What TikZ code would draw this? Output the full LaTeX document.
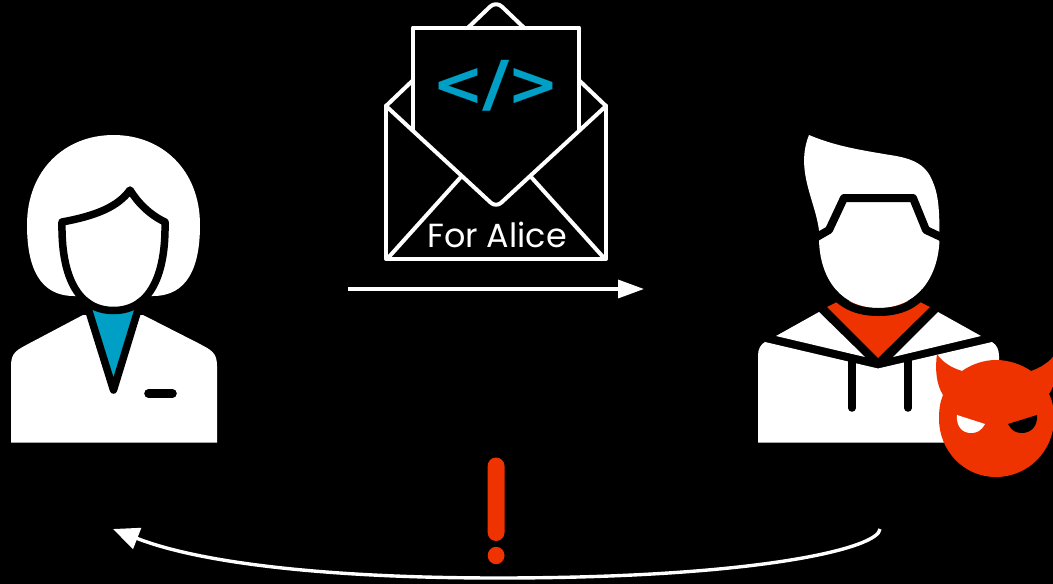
\documentclass[tikz,border=0pt]{standalone}
\usepackage{fontspec}
\setmainfont{Poppins}
\newfontfamily\codefont{DejaVu Sans}
\usetikzlibrary{arrows.meta}
\definecolor{cblue}{HTML}{00A0C6}
\definecolor{cred}{HTML}{EE3300}
\tikzset{
  wfill/.style={fill=white,draw=none},
  rfill/.style={fill=cred,draw=none},
  bline/.style={draw=black,line width=7.5pt,line join=round},
  env/.style={draw=white,line width=4pt,line join=round,line cap=round},
  arrowline/.style={draw=white,line width=3.4pt},
  lbl/.style={inner sep=0pt,text=white,font=\fontsize{33.4}{38}\selectfont},
  code/.style={inner sep=0pt,text=cblue,font=\codefont\bfseries\fontsize{62}{66}\selectfont}
}
\begin{document}
\begin{tikzpicture}[x=1pt,y=-1pt]
\useasboundingbox (0,0) rectangle (1053,584);
\fill[black] (0,0) rectangle (1053,584);
\begin{scope}
\clip (0,0) rectangle (1053,584);
% envelope
\draw[env,rounded corners=8pt] (386,106) -- (496,1) -- (606,106);
\fill[black] (413,130) rectangle (579,27.5);
\draw[env] (413,130) -- (413,27.5) -- (579,27.5) -- (579,130);
\draw[env] (460,178) -- (388,258);
\draw[env] (532,178) -- (604,258);
\draw[env] (386,106) -- (386,259) -- (606,259) -- (606,106);
\draw[env,rounded corners=7pt] (386,106) -- (496,207.5) -- (606,106);
\node[lbl] (forlabel) at (497,235) {For Alice};
\node[code] (codelabel) at (496,86) {<\hspace{-0.03em}\scalebox{1.2}[1.0]{/}\hspace{-0.03em}>};
% Alice
\path[wfill] (83,315) -- (30,343) .. controls (17,350) and (11,352) .. (11,366) -- (11,442.5) -- (217,442.5) -- (217,366) .. controls (217,352) and (211,350) .. (198,343) -- (143,315) -- cycle;
\draw[bline,fill=cblue] (87,305) -- (113.5,390) -- (139.5,305);
\path[wfill] (74,296) .. controls (40,296) and (27,268) .. (27,225) .. controls (27,170) and (65,135) .. (113.5,135) .. controls (162,135) and (200,170) .. (200,225) .. controls (200,268) and (187,296) .. (153,296) -- cycle;
\draw[bline,fill=white] (62,222) .. controls (95,216) and (118,207) .. (130,190) .. controls (138,203) and (150,215) .. (165,222) .. controls (166,275) and (150,310.5) .. (113.5,310.5) .. controls (77,310.5) and (61,275) .. (62,222) -- cycle;
\draw[bline,line width=8.6pt,line cap=round] (148.5,393.5) -- (172.5,393.5);
% Eve
\path[wfill] (765,342) -- (878,368.5) -- (992,342) .. controls (997,345) and (999,350) .. (999,356) -- (999,442.5) -- (758,442.5) -- (758,355) .. controls (758,349) and (761,344) .. (765,342) -- cycle;
\path[wfill] (819,312) -- (776,336) -- (865,357) -- cycle;
\path[wfill] (938,312) -- (981,336) -- (893,357) -- cycle;
\path[rfill] (827,307) -- (839,301) -- (918,301) -- (930,307) -- (878,358) -- cycle;
\draw[bline,line cap=round] (852,360) -- (852,408);
\draw[bline,line cap=round] (908,360) -- (908,408);
\path[wfill] (809,135) .. controls (835,146) and (860,150) .. (890,155) .. controls (910,158) and (925,163) .. (932,180) .. controls (939,195) and (939.5,212) .. (939.5,240) .. controls (938,280) and (915,308) .. (878.5,308) .. controls (842,308) and (820,280) .. (819,240) -- (819,230) .. controls (815,200) and (795,170) .. (809,135) -- cycle;
\draw[draw=black,line width=8pt] (832,292) .. controls (845,308) and (862,312) .. (878.5,312) .. controls (895,312) and (912,308) .. (925,292);
\draw[bline,line width=8pt] (815,238) -- (829,230) -- (844,198) -- (913,198) -- (926,230) -- (943,238);
% devil
\path[rfill] (937,354) .. controls (942,362) and (952,368) .. (962,371) .. controls (972,364) and (984,360) .. (996,360) .. controls (1008,360) and (1021,364) .. (1031,371) .. controls (1040,368) and (1050,362) .. (1055,354) .. controls (1057,370) and (1056,384) .. (1049,394) .. controls (1053,402) and (1054,410) .. (1054,418.5) .. controls (1054,451) and (1028,477) .. (996,477) .. controls (964,477) and (939,451) .. (939,418.5) .. controls (939,410) and (940,402) .. (943,395) .. controls (936,384) and (935,368) .. (937,354) -- cycle;
\path[wfill] (957,415) -- (985,424) .. controls (981,431) and (977,433) .. (971,433) .. controls (962,433) and (956,426) .. (957,415) -- cycle;
\path[fill=black] (1037,415) -- (1008,424) .. controls (1012,431) and (1016,433) .. (1022,433) .. controls (1031,433) and (1038,426) .. (1037,415) -- cycle;
\end{scope}
% exclamation
\path[rfill,rounded corners=8.4pt] (487.7,457.5) rectangle (504.5,541);
\path[rfill] (496.1,555.5) ellipse [x radius=8.4pt,y radius=8.7pt];
% arrows
\coordinate (a1) at (348,289);
\coordinate (a2) at (644,289);
\draw[arrowline,-{Triangle[length=26pt,width=18pt]}] (a1) -- (a2);
\coordinate (b1) at (880,529);
\coordinate (bm) at (498,578);
\coordinate (b2) at (113,529);
\draw[arrowline,-{Triangle[length=26pt,width=22pt]}] (b1) .. controls (879,548) and (760,578) .. (bm) .. controls (340,578) and (205,565) .. (b2);
\end{tikzpicture}
\end{document}
